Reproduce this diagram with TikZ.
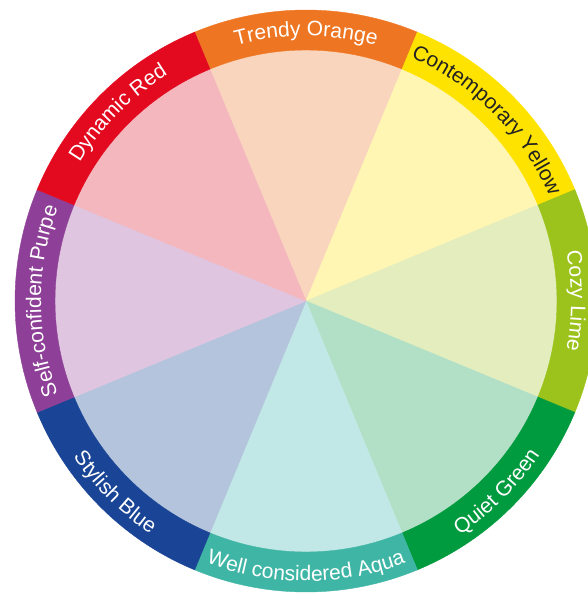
\documentclass[tikz,border=0pt]{standalone}
\usepackage{fontspec}
\setmainfont{Liberation Sans}
\usetikzlibrary{decorations.text}

% ring (strong) and sector (soft) colours
\definecolor{orangeR}{HTML}{EE7623}\definecolor{orangeS}{HTML}{FAD5BD}
\definecolor{yellowR}{HTML}{FFE300}\definecolor{yellowS}{HTML}{FFF6B3}
\definecolor{limeR}{HTML}{9CC31B}\definecolor{limeS}{HTML}{E3EDBD}
\definecolor{greenR}{HTML}{009B3E}\definecolor{greenS}{HTML}{B2E0C6}
\definecolor{aquaR}{HTML}{3FB6A5}\definecolor{aquaS}{HTML}{C1E8E6}
\definecolor{blueR}{HTML}{1A4495}\definecolor{blueS}{HTML}{B3C4DC}
\definecolor{purpleR}{HTML}{8E3F97}\definecolor{purpleS}{HTML}{DFC5E0}
\definecolor{redR}{HTML}{E30A1F}\definecolor{redS}{HTML}{F4B7BE}
\definecolor{lettering}{HTML}{FFFFFF}
\definecolor{darklettering}{HTML}{222222}

\newcommand\ringfont{\fontsize{21bp}{25bp}\selectfont}

\tikzset{
  ringlabel/.style n args={2}{decorate, decoration={text along path,
      text={|\ringfont|#1}, text align=center, text color=#2}},
}

\begin{document}
\begin{tikzpicture}[x=1bp,y=1bp]
\useasboundingbox (0,0) rectangle (588,-595);
\clip (0,0) rectangle (588,-595);
\begin{scope}[shift={(306,-301)}]
  % soft inner sectors and strong outer ring segments
  \foreach \a/\ring/\soft in {90/orangeR/orangeS, 45/yellowR/yellowS,
      0/limeR/limeS, -45/greenR/greenS, -90/aquaR/aquaS,
      -135/blueR/blueS, 180/purpleR/purpleS, 135/redR/redS}{
    \pgfmathsetmacro\lo{\a-22.5}
    \pgfmathsetmacro\hi{\a+22.5}
    \fill[\soft, draw=\soft, line width=0.4] (0,0) -- (\lo:251)
      arc[start angle=\lo, end angle=\hi, radius=251] -- cycle;
    \fill[\ring, draw=\ring, line width=0.4] (\lo:251) -- (\lo:291)
      arc[start angle=\lo, end angle=\hi, radius=291] -- (\hi:251)
      arc[start angle=\hi, end angle=\lo, radius=251] -- cycle;
  }

  % labels on the upper half run clockwise, letters pointing outwards
  \path[ringlabel={Self-confident Purpe}{lettering}]
    (202.5:265) arc[start angle=202.5, end angle=157.5, radius=265];
  \path[ringlabel={Dynamic Red}{lettering}]
    (157.5:265) arc[start angle=157.5, end angle=112.5, radius=265];
  \path[ringlabel={Trendy Orange}{lettering}]
    (112.5:265) arc[start angle=112.5, end angle=67.5, radius=265];
  \path[ringlabel={Contemporary Yellow}{darklettering}]
    (67.5:265) arc[start angle=67.5, end angle=22.5, radius=265];
  \path[ringlabel={Cozy Lime}{lettering}]
    (22.5:265) arc[start angle=22.5, end angle=-22.5, radius=265];

  % labels on the lower half run counter-clockwise, letters pointing inwards
  \path[ringlabel={Quiet Green}{lettering}]
    (-67.5:280) arc[start angle=-67.5, end angle=-22.5, radius=280];
  \path[ringlabel={Well considered Aqua}{lettering}]
    (-112.5:280) arc[start angle=-112.5, end angle=-67.5, radius=280];
  \path[ringlabel={Stylish Blue}{lettering}]
    (-157.5:280) arc[start angle=-157.5, end angle=-112.5, radius=280];
\end{scope}
\end{tikzpicture}
\end{document}
